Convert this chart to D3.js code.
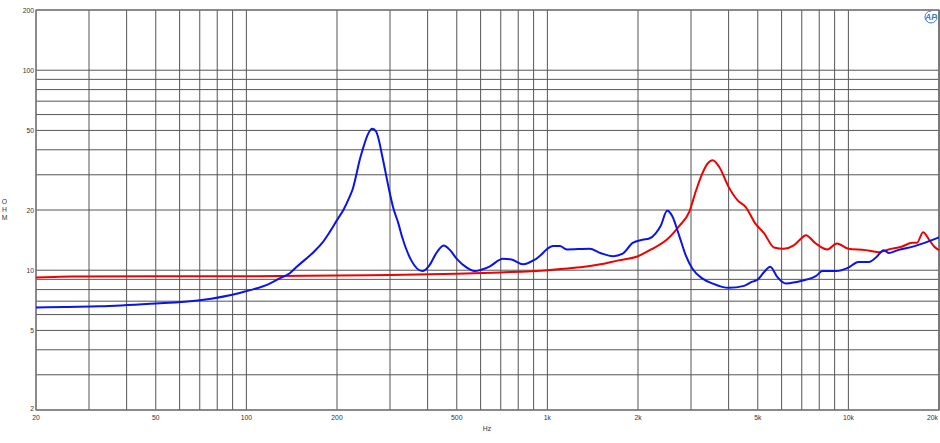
<!DOCTYPE html>
<html><head><meta charset="utf-8">
<script src="https://cdn.jsdelivr.net/npm/d3@7"></script>
<style>body{margin:0;background:#fff}svg{display:block}text{font-family:"Liberation Sans",Arial,sans-serif;}</style>
</head><body>
<svg id="c" width="940" height="443"></svg>
<script>
const xTickLabels = [20,50,100,200,500,1000,2000,5000,10000,20000];
const yTickLabels = [2,5,10,20,50,100,200];
const blueFreq = [20,25,32.6,48,70,95,120,129,139,147,167,178,189,200,210,220,226,231,237,243,254,262,270,284,295,307,320,329,353,384,406,425,452,475,500,540,572,640,712,760,830,918,1044,1100,1160,1380,1500,1650,1780,1920,2070,2180,2290,2380,2500,2600,2740,2880,3030,3270,3540,4000,4500,4770,5000,5250,5500,5800,6200,6720,7790,8200,9100,10000,10800,11700,12400,13100,13600,14600,16600,20000];
const blueOhm  = [6.5,6.55,6.6,6.8,7.08,7.7,8.6,9.1,9.62,10.4,12.3,13.6,15.5,17.8,20,23.2,25.7,29.3,34.8,39.8,48.2,50.9,49.2,36,27.1,20.7,17.1,14.7,11.2,9.9,10.6,12.0,13.3,12.6,11.4,10.3,9.9,10.4,11.4,11.3,10.7,11.4,13.2,13.2,12.7,12.8,12.2,11.75,12.1,13.7,14.2,14.4,15.3,16.7,19.8,18.6,14.9,11.9,10.2,9.1,8.58,8.16,8.35,8.74,8.98,9.8,10.4,9.26,8.58,8.74,9.33,9.9,9.9,10.3,11.0,11.0,11.65,12.6,12.2,12.6,13.2,14.6];
const redFreq = [20,23,26,100,200,300,500,700,1000,1500,1720,2000,2230,2480,2740,2960,3120,3270,3400,3540,3720,4000,4280,4560,4910,5250,5660,6100,6580,6900,7220,7790,8500,9160,10000,11400,12600,13600,15000,16300,16900,17700,18600,19300,20000];
const redOhm  = [9.2,9.25,9.3,9.33,9.4,9.45,9.6,9.75,10.0,10.7,11.2,11.75,12.8,14.1,16.6,19.6,25.1,30.4,34,35.5,32.9,26.1,22.4,20.7,17.1,15.3,13.0,12.8,13.3,14.2,14.96,13.6,12.7,13.6,12.8,12.6,12.3,12.7,13.1,13.7,13.7,15.5,14.1,13.1,12.6];

const svg = d3.select("#c");
const L=36, R=939, T=10, B=410;
const x = d3.scaleLog().domain([20,20000]).range([L,R]);
const y = d3.scaleLog().domain([2,200]).range([B,T]);

const xGrid = [];
for (let d=10; d<=10000; d*=10) for (let m=1; m<=9; m++){const v=d*m; if(v>=20&&v<=20000) xGrid.push(v);}
xGrid.push(20000);
const yGrid = [];
for (let d=1; d<=100; d*=10) for (let m=1; m<=9; m++){const v=d*m; if(v>=2&&v<=200) yGrid.push(v);}

const g = svg.append("g");
g.selectAll("line.v").data(xGrid).join("line")
  .attr("x1",d=>x(d)).attr("x2",d=>x(d)).attr("y1",T).attr("y2",B)
  .attr("stroke","#555").attr("stroke-width",1);
g.selectAll("line.h").data(yGrid).join("line")
  .attr("x1",L).attr("x2",R).attr("y1",d=>y(d)).attr("y2",d=>y(d))
  .attr("stroke","#555").attr("stroke-width",1);
g.append("rect").attr("x",L).attr("y",T).attr("width",R-L).attr("height",B-T)
  .attr("fill","none").attr("stroke","#777").attr("stroke-width",1.2);

const FS = 6.8;
const fmt = v => v>=1000 ? (v/1000)+"k" : String(v);
svg.selectAll("text.xl").data(xTickLabels).join("text")
  .attr("x",d=>d===20000? R-1 : x(d)).attr("y",420)
  .attr("text-anchor",d=>d===20000?"end":"middle")
  .attr("font-size",FS).attr("fill","#333").text(fmt);
svg.selectAll("text.yl").data(yTickLabels).join("text")
  .attr("x",34).attr("y",d=>d===2? y(d)+1 : y(d)+2.5)
  .attr("text-anchor","end").attr("font-size",FS).attr("fill","#333").text(d=>d);

svg.append("text").attr("x",487).attr("y",431).attr("text-anchor","middle")
  .attr("font-size",FS).attr("fill","#333").text("Hz");
["O","H","M"].forEach((c,i)=>svg.append("text").attr("x",4.5).attr("y",204+i*8)
  .attr("text-anchor","middle").attr("font-size",FS).attr("fill","#333").text(c));

const lg = svg.append("g").attr("transform","translate(931,17)");
lg.append("circle").attr("r",6).attr("fill","none").attr("stroke","#3a7bd5").attr("stroke-width",1)
  .attr("stroke-dasharray","28 10");
lg.append("text").attr("x",0).attr("y",3.2).attr("text-anchor","middle").attr("font-size",8.5)
  .attr("font-style","italic").attr("font-weight","bold").attr("fill","#3a7bd5").text("AP");

const line = d3.line().x(d=>x(d[0])).y(d=>y(d[1])).curve(d3.curveMonotoneX);
svg.append("path").datum(redFreq.map((f,i)=>[f,redOhm[i]]))
  .attr("d",line).attr("fill","none").attr("stroke","#f00000").attr("stroke-width",2);
svg.append("path").datum(blueFreq.map((f,i)=>[f,blueOhm[i]]))
  .attr("d",line).attr("fill","none").attr("stroke","#0a14e6").attr("stroke-width",2);
</script>
</body></html>
